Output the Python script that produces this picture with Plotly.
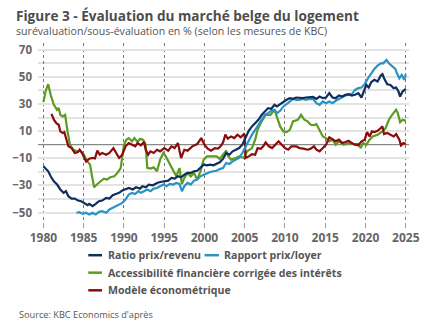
import plotly.graph_objects as go

# ---- data ----
ratio_x = [1980.0,1980.3,1980.6,1980.9,1981.3,1981.7,1982.1,1982.5,1982.8,1983.1,1983.5,1983.9,1984.3,1984.7,1985.1,1985.5,1985.7,1986.1,1986.5,1986.9,1987.3,1987.8,1988.2,1988.6,1989.0,1989.4,1989.8,1990.2,1990.6,1991.1,1991.5,1992.0,1992.3,1992.7,1993.1,1993.6,1994.1,1994.5,1995.0,1995.5,1995.9,1996.3,1996.7,1997.1,1997.5,1997.9,1998.3,1998.7,1999.1,1999.5,1999.9,2000.3,2000.7,2001.1,2001.5,2001.9,2002.3,2002.7,2003.1,2003.5,2003.9,2004.3,2004.7,2005.1,2005.5,2005.9,2006.3,2006.7,2007.1,2007.5,2007.9,2008.3,2008.7,2009.0,2009.4,2009.8,2010.2,2010.6,2011.0,2011.4,2011.8,2012.2,2012.6,2013.0,2013.5,2013.9,2014.3,2014.7,2015.1,2015.5,2015.9,2016.3,2016.7,2017.1,2017.5,2017.9,2018.3,2018.7,2019.1,2019.5,2019.8,2020.1,2020.4,2020.7,2021.1,2021.5,2021.9,2022.1,2022.3,2022.7,2023.1,2023.5,2023.8,2024.1,2024.3,2024.6,2025.0]
ratio_y = [-15.9,-17.6,-19.6,-23.3,-27.0,-29.4,-33.0,-35.5,-34.3,-38.0,-39.7,-39.7,-41.2,-41.7,-42.9,-44.6,-43.6,-45.3,-43.6,-41.7,-41.2,-39.2,-39.7,-37.3,-36.3,-35.5,-33.8,-33.0,-31.9,-33.0,-31.4,-32.4,-30.6,-31.4,-29.4,-29.9,-28.2,-27.5,-27.0,-26.5,-24.5,-25.0,-23.3,-24.0,-22.1,-20.8,-20.8,-19.6,-19.2,-17.2,-14.7,-15.2,-14.7,-15.2,-14.2,-13.0,-10.5,-6.1,-7.4,-4.9,-3.7,-2.5,0.0,4.9,10.3,13.5,15.9,18.4,22.0,24.5,27.0,26.5,29.4,28.2,29.9,31.4,33.1,34.3,33.8,34.8,34.3,34.3,34.8,34.8,35.2,33.8,35.5,34.3,34.8,38.0,34.8,34.3,36.3,35.5,36.8,37.3,36.3,36.8,38.0,34.8,39.2,44.1,42.2,46.1,47.8,46.6,51.0,52.0,49.0,44.6,44.1,41.7,42.2,39.2,35.5,39.2,41.2]

loyer_x = [1984.1,1984.5,1984.9,1985.3,1985.7,1986.1,1986.5,1986.9,1987.3,1987.8,1988.2,1988.6,1989.0,1989.4,1989.8,1990.2,1990.6,1991.0,1991.4,1991.8,1992.1,1992.5,1992.9,1993.3,1993.7,1994.1,1994.5,1994.9,1995.3,1995.7,1996.1,1996.5,1996.9,1997.2,1997.5,1997.9,1998.3,1998.7,1999.1,1999.5,1999.9,2000.3,2000.7,2001.1,2001.5,2001.9,2002.3,2002.7,2003.1,2003.5,2003.9,2004.3,2004.7,2005.1,2005.5,2005.9,2006.3,2006.7,2007.1,2007.5,2007.9,2008.3,2008.7,2009.0,2009.4,2009.8,2010.2,2010.6,2011.0,2011.4,2011.8,2012.2,2012.6,2013.0,2013.5,2013.9,2014.3,2014.7,2015.1,2015.5,2015.9,2016.3,2016.7,2017.1,2017.5,2017.9,2018.3,2018.7,2019.1,2019.5,2019.9,2020.3,2020.7,2021.1,2021.5,2021.9,2022.2,2022.6,2022.9,2023.3,2023.7,2023.9,2024.2,2024.5,2024.8,2025.0]
loyer_y = [-50.2,-49.8,-51.0,-50.2,-51.5,-50.2,-51.5,-49.5,-49.0,-50.2,-47.8,-46.6,-45.3,-43.6,-42.9,-40.4,-36.8,-35.5,-36.3,-34.3,-35.5,-34.3,-33.0,-34.3,-32.4,-31.9,-30.6,-29.4,-30.6,-28.9,-29.4,-28.2,-28.9,-34.3,-30.6,-28.2,-29.4,-26.5,-25.7,-23.3,-22.1,-20.8,-20.1,-19.6,-19.2,-18.0,-17.2,-13.5,-14.2,-12.3,-11.0,-9.8,-6.1,-1.2,3.7,7.4,11.0,14.7,18.4,22.0,23.3,25.0,25.7,23.3,25.0,28.2,29.9,31.9,33.8,33.1,33.1,33.8,33.1,33.8,33.6,30.6,29.4,31.9,30.6,31.9,30.6,32.4,33.8,35.5,36.3,36.8,37.3,40.4,41.7,42.2,44.6,49.0,52.7,55.9,58.3,60.0,60.0,62.5,60.0,57.6,55.9,52.7,49.0,51.5,47.8,52.0]

access_x = [1980.0,1980.3,1980.6,1980.9,1981.3,1981.7,1981.9,1982.1,1982.4,1982.7,1983.0,1983.3,1983.7,1984.2,1984.6,1985.0,1985.4,1985.8,1986.0,1986.3,1986.7,1987.1,1987.5,1987.9,1988.3,1988.8,1989.2,1989.6,1989.8,1990.0,1990.3,1990.6,1991.0,1991.3,1991.7,1992.0,1992.4,1992.7,1992.9,1993.3,1993.7,1994.1,1994.5,1994.9,1995.2,1995.6,1996.1,1996.5,1996.9,1997.2,1997.5,1997.9,1998.3,1998.7,1999.1,1999.5,1999.9,2000.3,2000.9,2001.5,2001.9,2002.3,2002.7,2002.9,2003.3,2003.9,2004.3,2004.9,2005.3,2005.9,2006.3,2006.6,2007.1,2007.6,2008.2,2008.7,2009.0,2009.4,2009.8,2010.2,2010.6,2011.0,2011.6,2012.0,2012.4,2012.8,2013.2,2013.6,2013.9,2014.3,2014.7,2015.1,2015.5,2015.9,2016.3,2016.7,2017.3,2017.9,2018.5,2019.1,2019.4,2019.7,2020.1,2020.5,2020.9,2021.5,2022.1,2022.5,2022.9,2023.3,2023.8,2024.0,2024.3,2024.6,2025.0]
access_y = [31.4,40.0,44.6,36.8,29.4,25.7,27.0,22.0,20.8,22.0,9.8,0.0,-3.7,-4.9,-4.4,-6.9,-12.0,-14.7,-22.0,-31.4,-29.0,-27.0,-25.0,-25.7,-24.0,-23.3,-20.8,-17.2,-9.8,0.0,3.7,4.9,2.5,4.9,2.0,4.4,3.5,0.0,-17.0,-17.6,-16.7,-19.6,-11.0,-6.1,-8.6,-13.5,-18.4,-23.3,-17.2,-29.0,-24.5,-20.8,-23.3,-20.8,-25.7,-19.6,-11.0,-8.6,-8.6,-8.6,-10.5,-7.4,-4.4,-8.0,-11.0,-9.8,-8.6,-9.8,-4.9,-2.5,3.7,11.0,17.2,22.0,22.0,25.7,20.8,13.5,9.8,9.3,11.0,17.2,18.4,22.0,18.4,17.2,14.7,14.5,15.2,11.0,6.1,4.9,2.5,3.7,0.0,2.5,0.0,1.2,0.5,0.5,-2.5,1.2,0.0,3.7,6.1,7.4,9.8,12.3,18.4,22.0,25.7,23.3,16.7,18.4,17.6]

model_x = [1981.0,1981.3,1981.6,1981.9,1982.1,1982.4,1982.6,1982.9,1983.1,1983.5,1983.9,1984.3,1984.5,1984.8,1985.1,1985.3,1985.7,1986.1,1986.4,1986.7,1987.0,1987.3,1987.8,1988.2,1988.7,1989.0,1989.4,1989.8,1990.2,1990.6,1991.0,1991.4,1991.7,1992.1,1992.5,1992.7,1993.0,1993.3,1993.7,1994.1,1994.5,1995.0,1995.5,1995.9,1996.3,1996.7,1997.1,1997.5,1997.9,1998.5,1999.1,1999.6,2000.0,2000.4,2000.8,2001.3,2001.7,2002.0,2002.3,2002.6,2002.9,2003.3,2003.7,2004.1,2004.5,2004.9,2005.0,2005.1,2005.5,2005.9,2006.3,2006.6,2007.0,2007.3,2007.6,2008.0,2008.4,2008.8,2009.2,2009.6,2010.0,2010.4,2010.8,2011.4,2011.8,2012.3,2012.8,2013.2,2013.6,2013.9,2014.3,2014.7,2015.1,2015.5,2015.9,2016.3,2016.7,2017.1,2017.5,2017.9,2018.3,2018.7,2019.1,2019.5,2019.9,2020.2,2020.5,2020.8,2021.1,2021.5,2021.9,2022.1,2022.3,2022.7,2023.1,2023.5,2023.8,2024.2,2024.4,2024.7,2025.0]
model_y = [22.8,18.4,15.9,14.7,9.8,8.6,9.3,3.7,-1.2,-2.5,-6.1,-5.4,-3.7,-6.1,-9.8,-12.3,-10.3,-9.8,-10.2,-4.4,-7.4,-6.1,-7.4,-6.1,-2.5,-6.1,-9.8,-7.4,-1.2,1.2,0.0,-1.2,1.2,-0.5,2.0,-3.7,-7.4,-4.9,-6.1,-3.7,-4.9,-2.5,-4.4,-1.2,-2.5,1.2,-9.8,-3.7,-4.4,-1.2,0.5,4.9,0.0,-2.9,-4.4,-2.5,-2.9,-1.2,1.5,7.4,4.4,6.1,4.9,7.4,5.4,7.8,7.0,-9.8,-8.6,-6.9,-7.4,-2.5,-3.0,-1.2,1.7,-1.2,-2.5,0.0,2.5,0.0,-2.5,-3.7,-1.2,-1.2,-2.5,-2.9,-3.7,-2.9,-1.2,-3.7,-4.9,-2.5,0.0,5.4,3.7,2.5,3.7,1.2,2.0,2.9,1.2,0.0,-0.5,2.5,3.7,9.3,6.1,9.8,9.3,10.3,12.3,13.5,7.8,8.6,7.4,6.1,7.8,3.7,-0.5,1.2,0.5]

series_names = ["Ratio prix/revenu", "Rapport prix/loyer",
                "Accessibilité financière corrigée des intérêts", "Modèle économétrique"]
series_colors = ["#102e5c", "#2b93c4", "#5b9b1f", "#8c0b0b"]
x_ticks = [1980, 1985, 1990, 1995, 2000, 2005, 2010, 2015, 2020, 2025]
y_ticks = [-50, -30, -10, 10, 30, 50, 70]

FONT = "Open Sans"
fig = go.Figure()
# draw order: green, red, light blue, navy on top
order = [(access_x, access_y, 2), (model_x, model_y, 3), (loyer_x, loyer_y, 1), (ratio_x, ratio_y, 0)]
for xs, ys, i in order:
    fig.add_trace(go.Scatter(x=xs, y=ys, mode="lines", name=series_names[i],
                             line=dict(color=series_colors[i], width=2.2),
                             showlegend=False))

W, H = 432, 334
L, R, T, B = 31.7, 14.3, 43, 111.5
pw, ph = W - L - R, H - T - B
def px(x): return (x - L) / pw
def py(y): return (H - B - y) / ph

def note(text, x, y, size, color="#555555"):
    return dict(text=text, xref="paper", yref="paper", x=px(x), y=py(y),
                xanchor="left", yanchor="middle", showarrow=False,
                font=dict(family=FONT, size=size, color=color))

annotations = [
    note("<b>Figure 3 - Évaluation du marché belge du logement</b>", 7, 15.5, 13.6, "#4d4d4d"),
    note("surévaluation/sous-évaluation en % (selon les mesures de KBC)", 7, 31, 10.6),
    note("Source: KBC Economics d'après", 10, 315, 9.2),
]
shapes = []
legend_pos = [(84, 98.3, 102.2, 255.8), (205, 220, 222.8, 255.8),
              (84, 98.3, 102.2, 273.3), (84, 98.3, 102.2, 291)]
for i, (x0, x1, xt, yy) in enumerate(legend_pos):
    shapes.append(dict(type="line", xref="paper", yref="paper", x0=px(x0), x1=px(x1),
                       y0=py(yy), y1=py(yy), line=dict(color=series_colors[i], width=2.5)))
    annotations.append(note("<b>" + series_names[i] + "</b>", xt, yy, 10.6))

fig.update_layout(
    width=W, height=H,
    margin=dict(l=L, r=R, t=T, b=B, pad=0),
    paper_bgcolor="white", plot_bgcolor="white",
    font=dict(family=FONT, color="#666666"),
    annotations=annotations, shapes=shapes,
    xaxis=dict(range=[1979.33, 2025.4], tickvals=x_ticks, showgrid=True,
               griddash="dot", gridcolor="#777777", gridwidth=1,
               ticks="outside", ticklen=5, tickcolor="#999999",
               tickfont=dict(family=FONT, size=12, color="#666666", weight="bold"),
               showline=False, zeroline=False),
    yaxis=dict(range=[-57, 75], tickvals=y_ticks, showgrid=True,
               gridcolor="#e3e3e3", gridwidth=1.5,
               minor=dict(dtick=10, tick0=0, showgrid=True, gridcolor="#e3e3e3", gridwidth=1.5),
               zeroline=True, zerolinecolor="#888888", zerolinewidth=1.2,
               ticks="", ticklabelstandoff=5,
               tickfont=dict(family=FONT, size=11.5, color="#666666", weight="bold"),
               showline=False),
)
fig.write_html("out.html")
